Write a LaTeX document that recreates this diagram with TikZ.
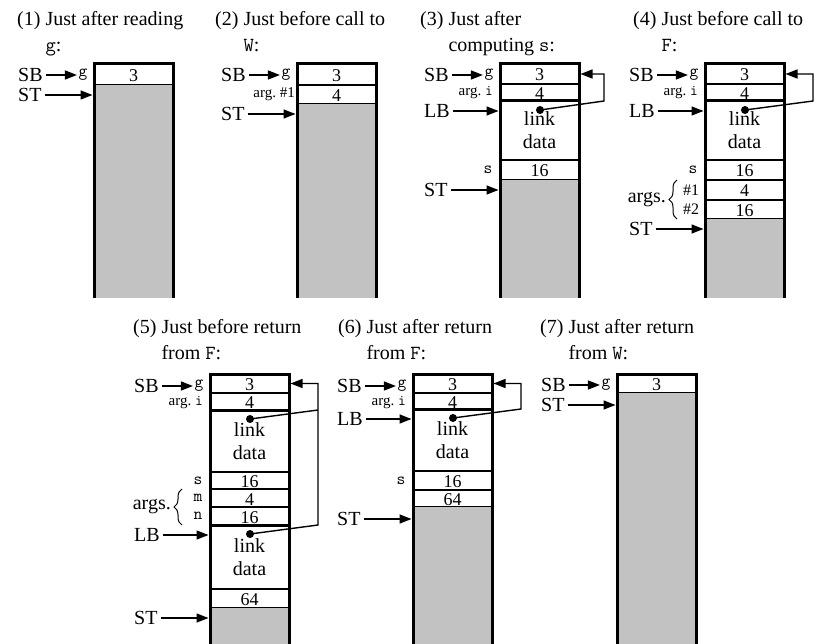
\documentclass[tikz,border=0pt]{standalone}
\usepackage{fontspec}
\setmainfont{Liberation Serif}
\usetikzlibrary{arrows.meta,positioning,decorations.pathreplacing}
\newcommand\sz[1]{\fontsize{#1}{#1}\selectfont}

\begin{document}
\begin{tikzpicture}[x=1pt,y=-1pt,
  cellbox/.style={draw,line width=1.3pt,fill=white,minimum width=79pt,inner sep=0pt,outer sep=0pt,anchor=north},
  cell/.style={cellbox,font=\sz{18},text height=14pt,text depth=0pt},
  linkcell/.style={cellbox,align=center,font=\fontsize{20}{23}\selectfont},
  stackused/.style={fill=black!24,minimum width=79pt,inner sep=0pt,outer sep=0pt,anchor=north},
  colframe/.style={line width=3pt},
  ptr/.style={-{Triangle[length=12pt,width=9pt]},line width=1.4pt,shorten >=1.5pt,shorten <=3pt},
  lbl/.style={inner sep=0pt,anchor=west,font=\sz{20}},
  tlbl/.style={inner sep=0pt,font=\ttfamily\sz{17}},
  slbl/.style={inner sep=0pt,anchor=east,font=\sz{15}},
  heading/.style={inner sep=0pt,anchor=north west,align=left,font=\fontsize{20}{26}\selectfont},
  linkdot/.style={circle,fill,inner sep=0pt,minimum size=8pt},
  argbrace/.style={decorate,decoration={brace,amplitude=8pt},line width=1pt}]
\useasboundingbox (0,0) rectangle (819,644);
% (1) just after reading g
\begin{scope}[shift={(94,64)}]
\node[heading] (t1) at (-77,-53) {(1) Just after reading\\\hphantom{(1)~}\texttt{g}:};
\node[cell,minimum height=21pt] (c1g) at (39.5,0) {3};
\node[stackused,minimum height=213pt,below=0pt of c1g] (h1) {};
\draw[colframe] (h1.south west) -- (c1g.north west) -- (c1g.north east) -- (h1.south east);
\node[lbl] (sb1) at (-76,11) {SB};
\node[tlbl] (g1) at (-11,11) {g};
\node[lbl] (st1) at (-76,31) {ST};
\draw[ptr] (sb1.east) -- (sb1.east -| g1.west);
\draw[ptr] (st1.east) -- (st1.east -| h1.west);
\end{scope}
% (2) just before call to W
\begin{scope}[shift={(297,64)}]
\node[heading] (t2) at (-82,-53) {(2) Just before call to\\\hphantom{(2)~}\texttt{W}:};
\node[cell,minimum height=21pt] (c2g) at (39.5,0) {3};
\node[cell,minimum height=19pt,below=0pt of c2g] (c2a) {4};
\node[stackused,minimum height=194pt,below=0pt of c2a] (h2) {};
\draw[colframe] (h2.south west) -- (c2g.north west) -- (c2g.north east) -- (h2.south east);
\node[lbl] (sb2) at (-76,11) {SB};
\node[tlbl] (g2) at (-11,11) {g};
\node[slbl] (a2) at (-2,30) {arg.~\#1};
\node[lbl] (st2) at (-76,50) {ST};
\draw[ptr] (sb2.east) -- (sb2.east -| g2.west);
\draw[ptr] (st2.east) -- (st2.east -| h2.west);
\end{scope}
% (3) just after computing s
\begin{scope}[shift={(500,64)}]
\node[heading] (t3) at (-80,-53) {(3) Just after\\\hphantom{(3)~}computing \texttt{s}:};
\node[cell,minimum height=20pt] (c3g) at (39.5,0) {3};
\node[cell,minimum height=17pt,below=0pt of c3g] (c3a) {4};
\node[linkcell,minimum height=59pt,below=0pt of c3a] (c3l) {link\\data};
\node[cell,minimum height=20pt,below=0pt of c3l] (c3s) {16};
\node[stackused,minimum height=118pt,below=0pt of c3s] (h3) {};
\draw[colframe] (h3.south west) -- (c3g.north west) -- (c3g.north east) -- (h3.south east);
\draw[colframe] (c3l.north west) -- (c3l.north east);
\node[lbl] (sb3) at (-76,11) {SB};
\node[tlbl] (g3) at (-11,11) {g};
\node[slbl] (a3) at (-7,29) {arg.~\texttt{i}};
\node[lbl] (lb3) at (-76,47) {LB};
\node[tlbl] (s3) at (-12,106) {s};
\node[lbl] (st3) at (-76,126) {ST};
\draw[ptr] (sb3.east) -- (sb3.east -| g3.west);
\draw[ptr] (lb3.east) -- (lb3.east -| c3l.west);
\draw[ptr] (st3.east) -- (st3.east -| h3.west);
\node[linkdot] (d3) at (40,46) {};
\coordinate (r3) at (104,37);
\draw[ptr] (d3.center) -- (r3) |- (c3g.east);
\end{scope}
% (4) just before call to F
\begin{scope}[shift={(705,64)}]
\node[heading] (t4) at (-72,-53) {(4) Just before call to\\\hphantom{(4)~}\texttt{F}:};
\node[cell,minimum height=20pt] (c4g) at (39.5,0) {3};
\node[cell,minimum height=17pt,below=0pt of c4g] (c4a) {4};
\node[linkcell,minimum height=59pt,below=0pt of c4a] (c4l) {link\\data};
\node[cell,minimum height=20pt,below=0pt of c4l] (c4s) {16};
\node[cell,minimum height=20pt,below=0pt of c4s] (c4p) {4};
\node[cell,minimum height=19pt,below=0pt of c4p] (c4q) {16};
\node[stackused,minimum height=79pt,below=0pt of c4q] (h4) {};
\draw[colframe] (h4.south west) -- (c4g.north west) -- (c4g.north east) -- (h4.south east);
\draw[colframe] (c4l.north west) -- (c4l.north east);
\node[lbl] (sb4) at (-76,11) {SB};
\node[tlbl] (g4) at (-11,11) {g};
\node[slbl] (a4) at (-7,29) {arg.~\texttt{i}};
\node[lbl] (lb4) at (-76,47) {LB};
\node[tlbl] (s4) at (-12,106) {s};
\node[inner sep=0pt,font=\sz{16}] (p4) at (-14,126) {\#1};
\node[inner sep=0pt,font=\sz{16}] (q4) at (-14,145.5) {\#2};
\draw[argbrace] (-28,155) -- (-28,116);
\node[lbl,anchor=east] (args4) at (-39,136) {args.};
\node[lbl] (st4) at (-76,165) {ST};
\draw[ptr] (sb4.east) -- (sb4.east -| g4.west);
\draw[ptr] (lb4.east) -- (lb4.east -| c4l.west);
\draw[ptr] (st4.east) -- (st4.east -| h4.west);
\node[linkdot] (d4) at (40,46) {};
\coordinate (r4) at (108,37);
\draw[ptr] (d4.center) -- (r4) |- (c4g.east);
\end{scope}
% (5) just before return from F
\begin{scope}[shift={(210,374)}]
\node[heading] (t5) at (-77,-55) {(5) Just before return\\\hphantom{(5)~}from \texttt{F}:};
\node[cell,minimum height=19pt] (c5g) at (39.5,0) {3};
\node[cell,minimum height=17pt,below=0pt of c5g] (c5a) {4};
\node[linkcell,minimum height=62pt,below=0pt of c5a] (c5l) {link\\data};
\node[cell,minimum height=17pt,below=0pt of c5l] (c5s) {16};
\node[cell,minimum height=18pt,below=0pt of c5s] (c5m) {4};
\node[cell,minimum height=18pt,below=0pt of c5m] (c5n) {16};
\node[linkcell,minimum height=64pt,below=0pt of c5n] (c5k) {link\\data};
\node[cell,minimum height=19pt,below=0pt of c5k] (c5r) {64};
\node[stackused,minimum height=40pt,below=0pt of c5r] (h5) {};
\draw[colframe] (h5.south west) -- (c5g.north west) -- (c5g.north east) -- (h5.south east);
\draw[colframe] (c5l.north west) -- (c5l.north east);
\draw[colframe] (c5k.north west) -- (c5k.north east);
\node[lbl] (sb5) at (-76,12) {SB};
\node[tlbl] (g5) at (-11,12) {g};
\node[slbl] (a5) at (-7,29) {arg.~\texttt{i}};
\node[tlbl] (s5) at (-12,106.5) {s};
\node[tlbl] (m5) at (-12,124) {m};
\node[tlbl] (n5) at (-12,142) {n};
\draw[argbrace] (-28,151) -- (-28,115);
\node[lbl,anchor=east] (args5) at (-39,133) {args.};
\node[lbl] (lb5) at (-76,161) {LB};
\node[lbl] (st5) at (-76,244) {ST};
\draw[ptr] (sb5.east) -- (sb5.east -| g5.west);
\draw[ptr] (lb5.east) -- (lb5.east -| c5k.west);
\draw[ptr] (st5.east) -- (st5.east -| h5.west);
\node[linkdot] (d5a) at (40,45) {};
\node[linkdot] (d5b) at (40,160) {};
\coordinate (r5a) at (108,36);
\coordinate (r5b) at (108,151);
\draw[line width=1.4pt] (d5a.center) -- (r5a);
\draw[ptr] (d5b.center) -- (r5b) -- (r5a) |- (c5g.east);
\end{scope}
% (6) just after return from F
\begin{scope}[shift={(413,374)}]
\node[heading] (t6) at (-75,-55) {(6) Just after return\\\hphantom{(6)~}from \texttt{F}:};
\node[cell,minimum height=19pt] (c6g) at (39.5,0) {3};
\node[cell,minimum height=16pt,below=0pt of c6g] (c6a) {4};
\node[linkcell,minimum height=62pt,below=0pt of c6a] (c6l) {link\\data};
\node[cell,minimum height=19pt,below=0pt of c6l] (c6s) {16};
\node[cell,minimum height=17pt,below=0pt of c6s] (c6r) {64};
\node[stackused,minimum height=140pt,below=0pt of c6r] (h6) {};
\draw[colframe] (h6.south west) -- (c6g.north west) -- (c6g.north east) -- (h6.south east);
\draw[colframe] (c6l.north west) -- (c6l.north east);
\node[lbl] (sb6) at (-76,12) {SB};
\node[tlbl] (g6) at (-11,12) {g};
\node[slbl] (a6) at (-7,29) {arg.~\texttt{i}};
\node[lbl] (lb6) at (-76,45) {LB};
\node[tlbl] (s6) at (-12,106.5) {s};
\node[lbl] (st6) at (-76,145) {ST};
\draw[ptr] (sb6.east) -- (sb6.east -| g6.west);
\draw[ptr] (lb6.east) -- (lb6.east -| c6l.west);
\draw[ptr] (st6.east) -- (st6.east -| h6.west);
\node[linkdot] (d6) at (40,44) {};
\coordinate (r6) at (108,35);
\draw[ptr] (d6.center) -- (r6) |- (c6g.east);
\end{scope}
% (7) just after return from W
\begin{scope}[shift={(617,374)}]
\node[heading] (t7) at (-77,-55) {(7) Just after return\\\hphantom{(7)~}from \texttt{W}:};
\node[cell,minimum height=19pt] (c7g) at (39.5,0) {3};
\node[stackused,minimum height=254pt,below=0pt of c7g] (h7) {};
\draw[colframe] (h7.south west) -- (c7g.north west) -- (c7g.north east) -- (h7.south east);
\node[lbl] (sb7) at (-76,11) {SB};
\node[tlbl] (g7) at (-11,11) {g};
\node[lbl] (st7) at (-76,31) {ST};
\draw[ptr] (sb7.east) -- (sb7.east -| g7.west);
\draw[ptr] (st7.east) -- (st7.east -| h7.west);
\end{scope}
\end{tikzpicture}
\end{document}
